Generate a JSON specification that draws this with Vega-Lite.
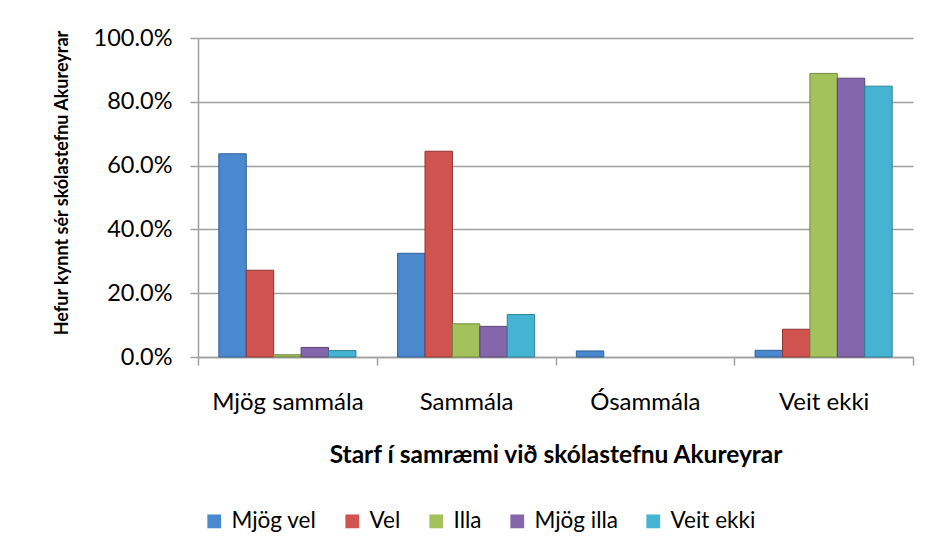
{
  "$schema": "https://vega.github.io/schema/vega-lite/v6.json",
  "autosize": {"type": "none"},
  "padding": {"left": 198, "top": 38, "right": 17, "bottom": 200},
  "width": 715,
  "height": 319,
  "background": "white",
  "config": {"view": {"stroke": null}, "font": "Lato"},
  "data": {
    "values": [
      {"cat": "Mjög sammála", "series": "Mjög vel", "value": 0.637},
      {"cat": "Mjög sammála", "series": "Vel", "value": 0.272},
      {"cat": "Mjög sammála", "series": "Illa", "value": 0.007},
      {"cat": "Mjög sammála", "series": "Mjög illa", "value": 0.030},
      {"cat": "Mjög sammála", "series": "Veit ekki", "value": 0.020},
      {"cat": "Sammála", "series": "Mjög vel", "value": 0.325},
      {"cat": "Sammála", "series": "Vel", "value": 0.645},
      {"cat": "Sammála", "series": "Illa", "value": 0.104},
      {"cat": "Sammála", "series": "Mjög illa", "value": 0.096},
      {"cat": "Sammála", "series": "Veit ekki", "value": 0.133},
      {"cat": "Ósammála", "series": "Mjög vel", "value": 0.019},
      {"cat": "Ósammála", "series": "Vel", "value": 0},
      {"cat": "Ósammála", "series": "Illa", "value": 0},
      {"cat": "Ósammála", "series": "Mjög illa", "value": 0},
      {"cat": "Ósammála", "series": "Veit ekki", "value": 0},
      {"cat": "Veit ekki", "series": "Mjög vel", "value": 0.021},
      {"cat": "Veit ekki", "series": "Vel", "value": 0.087},
      {"cat": "Veit ekki", "series": "Illa", "value": 0.889},
      {"cat": "Veit ekki", "series": "Mjög illa", "value": 0.874},
      {"cat": "Veit ekki", "series": "Veit ekki", "value": 0.849}
    ]
  },
  "transform": [{"filter": "datum.value > 0"}],
  "mark": {"type": "bar", "strokeWidth": 1},
  "encoding": {
    "x": {
      "field": "cat",
      "type": "nominal",
      "sort": ["Mjög sammála", "Sammála", "Ósammála", "Veit ekki"],
      "scale": {"domain": ["Mjög sammála", "Sammála", "Ósammála", "Veit ekki"], "paddingInner": 0, "paddingOuter": 0},
      "axis": {
        "tickBand": "extent",
        "labelAngle": 0,
        "labelFontSize": 24,
        "labelColor": "#000000",
        "labelPadding": 25,
        "tickSize": 8,
        "tickColor": "#A0A0A0",
        "tickWidth": 1.5,
        "domainColor": "#A0A0A0",
        "domainWidth": 1.5,
        "grid": false,
        "title": "Starf í samræmi við skólastefnu Akureyrar",
        "titleFontSize": 24.5,
        "titleFontWeight": "bold",
        "titleColor": "#000000",
        "titleBaseline": "alphabetic",
        "titleX": 357.5,
        "titleY": 105
      }
    },
    "xOffset": {
      "field": "series",
      "type": "nominal",
      "scale": {"domain": ["Mjög vel", "Vel", "Illa", "Mjög illa", "Veit ekki"], "paddingInner": 0, "paddingOuter": 0.76}
    },
    "y": {
      "field": "value",
      "type": "quantitative",
      "scale": {"domain": [0, 1], "nice": false},
      "axis": {
        "format": ".1%",
        "values": [0, 0.2, 0.4, 0.6, 0.8, 1],
        "grid": true,
        "gridColor": "#A0A0A0",
        "gridWidth": 1.5,
        "domainColor": "#A0A0A0",
        "domainWidth": 1.5,
        "tickColor": "#A0A0A0",
        "tickWidth": 1.5,
        "tickSize": 8,
        "labelPadding": 18,
        "labelFontSize": 23.5,
        "labelColor": "#000000",
        "title": "Hefur kynnt sér skólastefnu Akureyrar",
        "titleFontSize": 18,
        "titleFontWeight": "bold",
        "titleColor": "#000000",
        "titleAngle": -90,
        "titleAlign": "center",
        "titleBaseline": "alphabetic",
        "titleX": -131,
        "titleY": 144.5
      }
    },
    "fill": {
      "field": "series",
      "type": "nominal",
      "scale": {
        "domain": ["Mjög vel", "Vel", "Illa", "Mjög illa", "Veit ekki"],
        "range": ["#4A88CF", "#D05350", "#A3C25C", "#8466AD", "#45B3D2"]
      },
      "legend": {
        "orient": "none",
        "direction": "horizontal",
        "legendX": 5,
        "legendY": 472,
        "title": null,
        "symbolType": "square",
        "symbolSize": 190,
        "symbolStrokeWidth": 0,
        "labelFontSize": 22.5,
        "labelColor": "#000000",
        "labelOffset": 6,
        "columnPadding": 24
      }
    },
    "stroke": {
      "field": "series",
      "type": "nominal",
      "scale": {
        "domain": ["Mjög vel", "Vel", "Illa", "Mjög illa", "Veit ekki"],
        "range": ["#2F5F93", "#8E3431", "#71893F", "#5A4577", "#2F8099"]
      },
      "legend": null
    }
  }
}
